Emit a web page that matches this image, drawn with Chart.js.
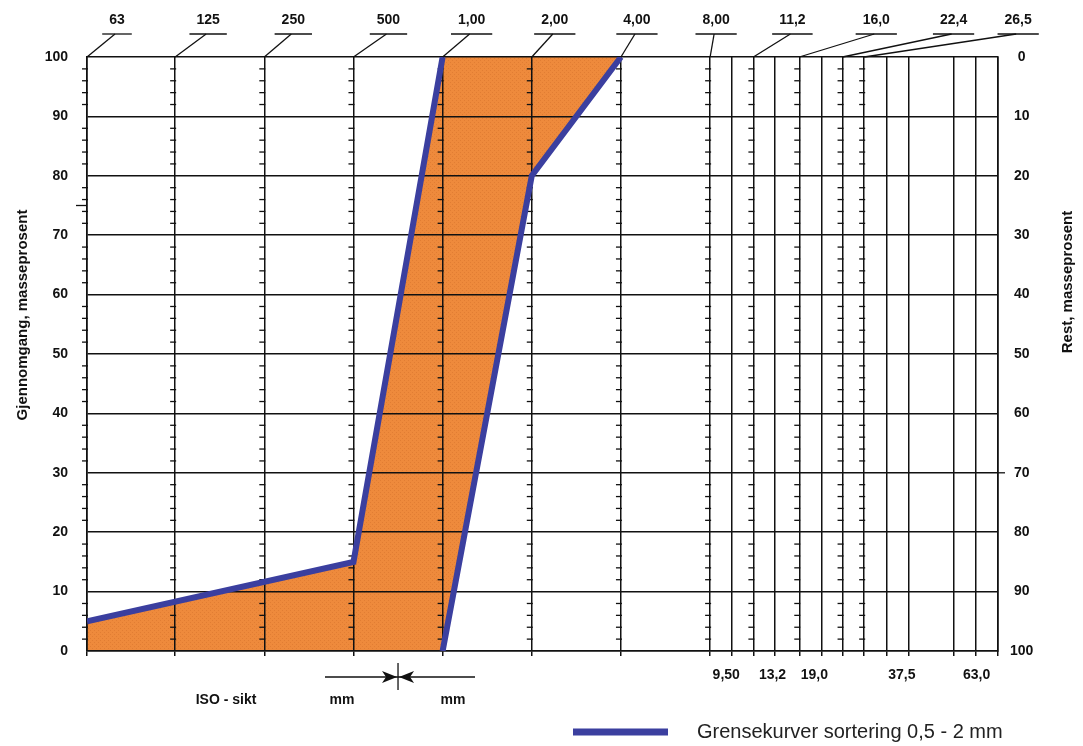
<!DOCTYPE html>
<html>
<head>
<meta charset="utf-8">
<script src="https://cdn.jsdelivr.net/npm/chart.js@4.4.0/dist/chart.umd.min.js"></script>
<style>
    html, body { margin: 0; padding: 0; background: #fff; }
    #wrap { width: 1083px; height: 746px; position: relative; }
</style>
</head>
<body>
<div id="wrap"><canvas id="sieveChart"></canvas></div>
<script>
// Sieve sizes in mm (vertical lines), from 63 µm up to the 75 mm edge
const sieveSizes = [0.063, 0.125, 0.25, 0.5, 1, 2, 4, 8, 9.5, 11.2, 13.2, 16, 19, 22.4, 26.5, 31.5, 37.5, 53, 63, 75];
const topSieves = [0.063, 0.125, 0.25, 0.5, 1, 2, 4, 8, 11.2, 16, 22.4, 26.5];
const topLabels = ['63', '125', '250', '500', '1,00', '2,00', '4,00', '8,00', '11,2', '16,0', '22,4', '26,5'];
const bottomSieves = [9.5, 13.2, 19, 37.5, 63];
const bottomLabels = ['9,50', '13,2', '19,0', '37,5', '63,0'];

// Limit curves (passing, mass percent)
const upperSizes = [0.063, 0.5, 1];
const upperPass = [5, 15, 100];
const lowerSizes = [1, 2, 4];
const lowerPass = [0, 80, 100];

// Band between the curves (orange area)
const bandSizes = [0.063, 0.5, 1, 2, 4];
const bandTop = [5, 15, 100, 100, 100];
const bandBottom = [0, 0, 0, 80, 100];

const legendText = 'Grensekurver sortering 0,5 - 2 mm';

// label placement (pixels from the sieve line)
const topLabelShift = [30, 33, 29, 35, 29, 23, 16, 6, 39, 77, 111, 154];
const bottomLabelShift = [-6, -2, -7, -7, 1];

const INK = '#111';
const BLUE = '#3b3f9f';
const BOLD = 'bold 14px "Liberation Sans", Arial, sans-serif';

function pts(xs, ys) {
    return xs.map((x, i) => ({ x: x, y: ys[i] }));
}

function orangePattern() {
    const c = document.createElement('canvas');
    c.width = 4; c.height = 4;
    const g = c.getContext('2d');
    g.fillStyle = '#ee8a3c';
    g.fillRect(0, 0, 4, 4);
    g.fillStyle = 'rgba(200, 100, 35, 0.35)';
    g.fillRect(0, 0, 1, 1);
    g.fillRect(2, 2, 1, 1);
    return g.createPattern(c, 'repeat');
}

function line(ctx, x1, y1, x2, y2) {
    ctx.beginPath();
    ctx.moveTo(x1, y1);
    ctx.lineTo(x2, y2);
    ctx.stroke();
}

const sieveDecor = {
    id: 'sieveDecor',
    beforeDatasetsDraw(chart) {
        const ctx = chart.ctx;
        const xs = chart.scales.x, ys = chart.scales.y;
        ctx.save();
        ctx.strokeStyle = INK;
        ctx.lineWidth = 1.3;
        // minor ticks every 2 % on the ISO sieve lines
        topSieves.forEach(v => {
            const px = xs.getPixelForValue(v);
            for (let p = 2; p < 100; p += 2) {
                if (p % 10 === 0) continue;
                const py = ys.getPixelForValue(p);
                line(ctx, px - 5, py, px + 1, py);
            }
        });
        // odd longer marks on the edges
        line(ctx, chart.chartArea.left - 11, ys.getPixelForValue(75), chart.chartArea.left, ys.getPixelForValue(75));
        line(ctx, chart.chartArea.right, ys.getPixelForValue(30), chart.chartArea.right + 7, ys.getPixelForValue(30));
        ctx.restore();
    },
    afterDraw(chart) {
        const ctx = chart.ctx;
        const xs = chart.scales.x;
        const area = chart.chartArea;
        ctx.save();
        ctx.fillStyle = INK;
        ctx.strokeStyle = INK;
        ctx.lineWidth = 1.3;
        ctx.font = BOLD;
        ctx.textAlign = 'center';
        ctx.textBaseline = 'middle';

        // top sieve labels with underline and leader
        topSieves.forEach((v, i) => {
            const px = xs.getPixelForValue(v);
            const lx = px + topLabelShift[i];
            const w = ctx.measureText(topLabels[i]).width;
            ctx.fillText(topLabels[i], lx, 20);
            line(ctx, lx - w / 2 - 7, 34, lx + w / 2 + 7, 34);
            line(ctx, lx - 2, 34, px, area.top);
        });

        // bottom sieve labels
        bottomSieves.forEach((v, i) => {
            ctx.fillText(bottomLabels[i], xs.getPixelForValue(v) + bottomLabelShift[i], 675);
        });

        // ISO - sikt / mm marker
        ctx.fillText('ISO - sikt', 226, 700);
        ctx.fillText('mm', 342, 700);
        ctx.fillText('mm', 453, 700);
        const mx = xs.getPixelForValue(0.707);
        line(ctx, 325, 677, 475, 677);
        line(ctx, mx, 663, mx, 690);
        ctx.beginPath();
        ctx.moveTo(mx - 1, 677); ctx.lineTo(mx - 16, 671); ctx.lineTo(mx - 12, 677); ctx.lineTo(mx - 16, 683); ctx.closePath();
        ctx.fill();
        ctx.beginPath();
        ctx.moveTo(mx + 1, 677); ctx.lineTo(mx + 16, 671); ctx.lineTo(mx + 12, 677); ctx.lineTo(mx + 16, 683); ctx.closePath();
        ctx.fill();

        // axis titles
        ctx.font = 'bold 15px "Liberation Sans", Arial, sans-serif';
        ctx.save();
        ctx.translate(23, 315);
        ctx.rotate(-Math.PI / 2);
        ctx.fillText('Gjennomgang, masseprosent', 0, 0);
        ctx.restore();
        ctx.save();
        ctx.translate(1068, 282);
        ctx.rotate(-Math.PI / 2);
        ctx.fillText('Rest, masseprosent', 0, 0);
        ctx.restore();

        // legend
        const ds = chart.data.datasets[0];
        ctx.strokeStyle = ds.borderColor;
        ctx.lineWidth = 7;
        line(ctx, 573, 732, 668, 732);
        ctx.font = '20px "Liberation Sans", Arial, sans-serif';
        ctx.fillStyle = '#222';
        ctx.textAlign = 'left';
        ctx.fillText(ds.label, 697, 732);
        ctx.restore();
    }
};

const ctx = document.getElementById('sieveChart').getContext('2d');
const sieveChart = new Chart(ctx, {
    type: 'line',
    data: {
        datasets: [
            {
                label: legendText,
                data: pts(upperSizes, upperPass),
                borderColor: BLUE,
                borderWidth: 6,
                pointRadius: 0,
                fill: false
            },
            {
                label: 'lower',
                data: pts(lowerSizes, lowerPass),
                borderColor: BLUE,
                borderWidth: 6,
                pointRadius: 0,
                fill: false
            },
            {
                label: 'band-bottom',
                data: pts(bandSizes, bandBottom),
                borderWidth: 0,
                pointRadius: 0,
                fill: false
            },
            {
                label: 'band',
                data: pts(bandSizes, bandTop),
                borderWidth: 0,
                pointRadius: 0,
                backgroundColor: orangePattern(),
                fill: '-1'
            }
        ]
    },
    options: {
        responsive: true,
        maintainAspectRatio: false,
        animation: false,
        layout: { padding: { top: 57, left: 0, right: 0, bottom: 0 } },
        plugins: {
            legend: { display: false },
            tooltip: { enabled: false },
            filler: { drawTime: 'beforeDraw' }
        },
        scales: {
            x: {
                type: 'logarithmic',
                min: 0.063,
                max: 75,
                afterBuildTicks: function(axis) {
                    axis.ticks = sieveSizes.map(v => ({ value: v }));
                },
                afterFit: function(axis) { axis.height = 95; },
                ticks: { display: false },
                grid: { color: INK, lineWidth: 1.5, drawTicks: true, tickLength: 5 },
                border: { color: INK, width: 1.6 }
            },
            y: {
                position: 'left',
                min: 0,
                max: 100,
                afterFit: function(axis) { axis.width = 87; },
                ticks: { stepSize: 10, color: INK, padding: 19, font: { family: '"Liberation Sans", Arial', size: 14, weight: 'bold' } },
                grid: { color: INK, lineWidth: 1.6, drawTicks: false },
                border: { color: INK, width: 1.6 }
            },
            y2: {
                position: 'right',
                min: 0,
                max: 100,
                reverse: true,
                afterFit: function(axis) { axis.width = 85; },
                ticks: { stepSize: 10, color: INK, padding: 12, crossAlign: 'center', font: { family: '"Liberation Sans", Arial', size: 14, weight: 'bold' } },
                grid: { drawOnChartArea: false, drawTicks: false },
                border: { color: INK, width: 1.6 }
            }
        }
    },
    plugins: [sieveDecor]
});
</script>
</body>
</html>
